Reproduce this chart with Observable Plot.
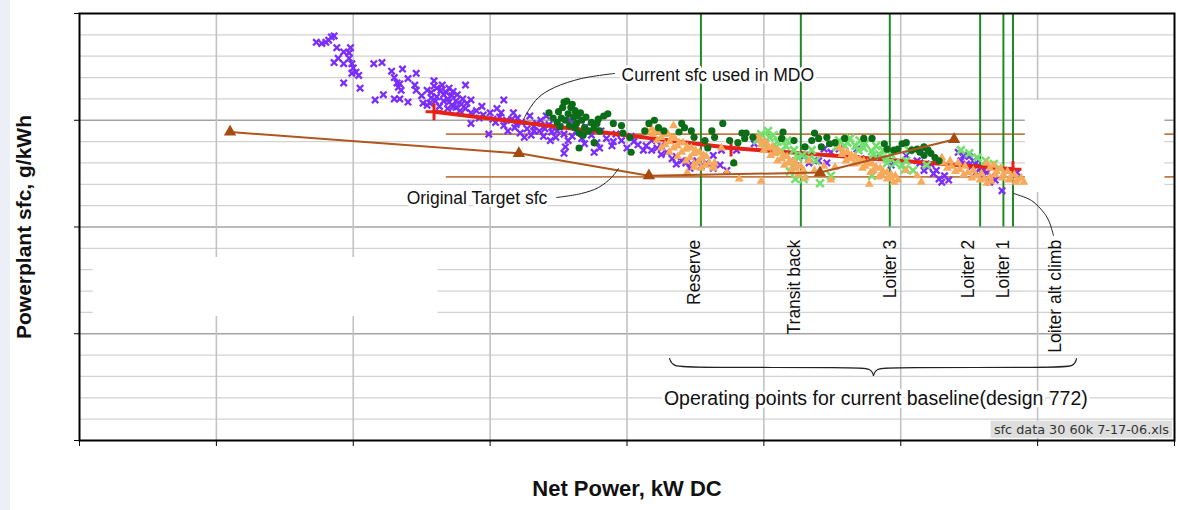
<!DOCTYPE html>
<html><head><meta charset="utf-8">
<script src="https://cdn.jsdelivr.net/npm/d3@7"></script>
<script src="https://cdn.jsdelivr.net/npm/@observablehq/plot@0.6"></script>
<style>
html,body{margin:0;padding:0;}
body{background:linear-gradient(to right,#eceff5 0,#eceff5 10px,#fff 10px);width:1178px;height:510px;overflow:hidden;}
#chart svg{display:block;}
</style></head><body><div id="chart"></div>
<script>
// axes (tick labels were blanked in the original)
const xTicks = [0,10,20,30,40,50,60,70,80];
const xGrid = [10,20,30,40,50,60,70];
const yTicks = [200,300,400,500,600];
const yMajorGrid = [300,400,500];
const yMinorGrid = [220,240,260,280,320,340,360,380,420,440,460,480,520,540,560,580];

// measured operating points, [net power kW, sfc g/kWh]
const purple = [
[17.3,573],[17.7,572],[18.0,573],[18.2,575],[18.4,578],[18.6,579],
[18.8,568],[19.3,564],[19.8,568],[19.7,563],
[18.6,554],[18.9,558],[19.3,553],[19.7,558],[19.9,553],[20.0,549],[20.2,545],[20.4,542],[19.9,544],
[19.3,535],[20.5,530],[21.5,553],[22.1,554],
[22.8,546],[23.6,548],[24.6,544],[24.0,539],[23.0,540],[23.2,535],[23.3,531],[23.5,528],[23.4,534],
[22.2,524],[21.6,519],[23.0,520],[23.4,520],[24.0,517],
[24.5,533],[24.6,528],[25.0,523],[25.1,516],[25.4,514],[25.9,537],[28.2,533],[28.6,519],[31.0,519],
[25.4,528],[25.7,526],[26.1,530],[26.4,528],[26.8,526],[27.2,523],[25.7,521],[26.1,522],[26.6,518],[27.0,517],[27.5,518],[27.9,515],[26.3,513],[26.9,511],[27.3,513],[27.8,509],[28.2,511],[28.6,507],[25.6,516],[27.6,524],[26.6,524],[27.0,530],
[25.9,532],[26.5,533],[27.3,527],[28.0,520],[28.3,516],[26.0,518],[26.9,520],[27.5,512],
[29.0,509],[29.5,505],[30.0,507],[30.2,501],[30.7,503],[31.2,500],[31.6,501],[31.9,496],[32.3,498],[32.7,492],[33.2,494],[33.6,490],[34.0,492],[34.5,489],[34.9,490],[28.6,497],[29.9,487],[31.3,490],[32.5,484],[33.2,490],[29.4,513],[30.5,511],[31.7,507],[32.9,504],[33.7,500],[34.3,496],[35.1,494],[35.4,487],[35.7,481],
[29.2,502],[30.4,498],[31.0,495],[31.8,493],[32.2,488],[33.0,486],[33.9,485],[34.8,484],[30.8,507],[32.0,502],[33.4,497],[34.6,494],
[35.9,500],[36.3,490],[36.7,483],[37.0,494],[37.4,486],[37.8,479],[38.1,490],[38.5,483],[38.9,476],[39.2,487],[39.6,481],[40.0,474],[40.3,485],[40.8,477],[41.2,472],[35.4,469],[37.6,470],[34.1,504],[34.4,481],
[36.0,485],[36.9,478],[38.0,474],[39.0,480],[40.5,480],[35.5,475],
[41.4,476],[41.8,472],[42.2,474],[42.5,468],[42.9,470],[43.3,464],[43.6,466],[44.0,462],[44.3,460],[44.7,459],[45.1,462],[45.4,457],[45.8,460],[46.3,455],[46.8,458],[47.3,453],[43.6,459],[44.6,455],[42.5,476],[41.8,481],[46.3,467],[46.9,472],[48.0,472],[49.3,478],
[52.3,462],[53.0,467],[54.0,462],[54.4,473],[54.9,470],[55.5,473],[54.6,460],[56.8,473],[57.1,464],[58.2,465],[59.3,458],[53.3,460],
[60.4,467],[61.2,462],[61.7,473],[62.0,456],[62.4,450],[62.8,445],[63.0,442],[61.7,453],[62.2,459],[62.6,453],[63.2,448],[63.5,444],[61.4,460],
[64.2,470],[64.6,467],[65.0,466],[65.3,462],[64.4,462],[64.8,459],[65.2,457],[65.5,460],[65.8,455],[66.0,453],[66.3,451],[66.6,447],[66.9,444],[66.5,442],[65.9,447],[65.5,451],[67.4,434],[68.5,451]
];
const darkGreen = [
[35.6,518],[35.9,512],[36.2,509],[36.4,504],[36.1,503],[35.7,506],[35.2,502],[34.9,498],[34.3,507],[36.7,500],[36.9,493],[37.2,490],[36.3,497],[35.8,495],[36.5,488],[37.6,493],[38.3,504],[38.6,506],[37.8,497],[39.0,497],[39.6,495],[39.7,488],[40.2,484],[40.3,470],[37.6,479],[36.5,474],[41.6,497],[42.0,500],[42.3,493],[41.3,490],[42.7,490],[44.0,497],[44.2,493],[43.8,489],[44.7,490],[44.9,484],[45.7,481],[46.2,490],[46.4,484],[47.0,497],[47.5,481],[48.4,488],[48.6,483],[47.8,460],[48.1,479],[49.2,484],[45.9,474],[35.4,517],[48.7,488],
[35.0,508],[35.3,512],[36.0,515],[36.6,507],[37.0,503],[37.4,498],[35.5,500],[36.2,493],[37.9,501],[38.0,490],[36.8,486],[35.1,494],[34.6,502],
[51.4,489],[51.3,483],[52.2,481],[53.7,488],[53.5,481],[54.0,483],[54.6,484],[54.8,478],[54.2,475],[55.2,479],[55.9,483],[53.0,475],[57.3,483],[57.9,483],[59.0,473],[58.8,478],[59.8,473],
[59.5,472],[60.1,478],[60.4,479],[60.8,472],[61.2,473],[61.4,470],[61.7,475],[62.0,472],[62.2,469],[62.5,465],[62.8,462],[61.7,467]
];
const lightGreen = [
[49.8,487],[50.4,484],[51.0,480],[51.6,476],[52.2,472],[52.8,467],[53.3,464],[50.9,475],[52.0,462],[52.6,448],[52.3,445],[52.9,445],[50.3,490],[50.7,486],[51.7,481],[49.5,481],[53.5,472],
[50.1,478],[51.3,471],[52.5,465],[51.9,452],[52.1,457],
[55.5,481],[56.1,479],[56.7,476],[57.3,474],[57.9,471],[58.5,467],[59.0,464],[59.6,460],[60.1,458],[56.3,483],[57.4,478],[58.7,472],[57.0,481],[58.2,476],[59.3,468],[55.3,475],
[55.9,476],[56.9,472],[58.0,468],[59.0,460],[60.3,454],
[54.1,441],[54.9,448],[53.8,462],[60.4,462],[60.9,453],[61.9,458],[60.6,472],[57.9,448],
[64.4,472],[65.0,469],[65.6,465],[66.2,462],[66.8,459],[67.2,455]
];
const orange = [
[41.8,492],[42.4,489],[43.0,487],[43.5,483],[44.1,479],[44.7,474],[45.3,470],[45.8,466],
[42.1,490],[42.7,487],[43.3,483],[43.8,479],[44.4,475],[45.0,472],[45.6,467],
[41.9,487],[42.5,484],[43.1,480],[43.7,476],[44.3,473],[44.9,469],[45.4,464],[46.0,460],
[42.2,481],[42.8,477],[43.4,474],[44.0,470],[44.6,465],[45.2,461],[45.7,458],
[42.5,474],[43.1,470],[43.7,466],[44.3,462],[44.9,459],[45.4,455],
[41.5,489],[46.3,457],[43.4,495],[46.9,474],[44.9,456],[46.4,460],[47.8,460],[46.3,455],
[49.6,484],[50.1,480],[50.6,475],[51.1,471],[51.7,466],[52.2,461],[52.7,457],
[49.8,481],[50.3,476],[50.9,472],[51.4,467],[51.9,462],[52.4,458],[52.9,453],
[49.8,477],[50.3,474],[50.8,469],[51.3,464],[51.8,460],[52.3,455],[52.8,451],
[50.0,472],[50.5,467],[51.0,462],[51.5,458],[52.0,453],[52.5,449],[53.0,446],
[55.5,474],[56.1,470],[56.7,466],[57.3,462],[57.9,459],[58.5,455],[59.0,451],[59.6,448],
[55.8,471],[56.4,467],[57.0,463],[57.6,460],[58.2,456],[58.7,452],[59.3,449],
[55.7,468],[56.3,464],[56.8,460],[57.4,457],[58.0,453],[58.6,449],[59.2,446],[59.8,444],
[56.0,462],[56.6,459],[57.2,455],[57.8,451],[58.4,447],[59.0,445],[59.5,442],
[63.0,465],[63.6,462],[64.2,460],[64.7,457],[65.3,453],[65.9,450],[66.5,447],
[63.1,460],[63.7,457],[64.3,454],[64.9,451],[65.5,448],[66.1,445],[66.6,443],
[63.4,455],[64.0,452],[64.6,449],[65.2,446],[65.8,444],[66.3,441],
[66.3,460],[66.8,458],[67.3,455],[67.8,452],[68.3,449],[68.8,446],
[66.5,455],[67.0,452],[67.5,449],[68.0,446],[68.5,444],[69.0,442],
[66.9,449],[67.4,446],[67.9,444],[68.4,442],
[53.7,453],[54.4,457],[54.9,444],[60.4,453],[61.2,448],[61.5,442],[48.2,445],[47.3,451],[44.4,451],[49.8,443],[55.2,456],[57.7,440],[53.3,462]
];

// "Current sfc used in MDO" curve
const currentX = [25.9, 47.6, 68.2];
const currentY = [508, 474, 454];
// "Original Target sfc" curve
const targetX = [11.0, 32.1, 41.6, 54.1, 63.9];
const targetY = [489, 469, 448, 451, 482];
// target band lines
const bandY = [447, 487];
const bandX = [26.8, 80];

// mission phase markers
const phaseNames = ["Reserve","Transit back","Loiter 3","Loiter 2","Loiter 1","Loiter alt climb"];
const phaseLineX = [45.4, 52.7, 59.2, 65.8, 67.5, 68.2];
const phaseLabelX = [44.9, 52.2, 59.25, 64.95, 67.5, 71.3];
const phaseLineY = [400, 600];
const phaseLabelY = 388;

// annotations
const mdoLeader = {x:[39.09,36.68,34.70,33.53,32.80,32.44], y:[543.8,539.1,530.7,521.3,509.1,500.7]};
const targetLeader = {x:[34.85,36.68,37.92,38.87,39.38], y:[427.6,431.4,437.0,446.4,454.8]};
const climbLeader = {x:[68.24,69.55,70.50,70.87,71.16], y:[431.4,424.8,412.7,404.2,392.0]};
const braceLeft = {x:[43.11,43.32,44.71,56.77,57.86,58.01], y:[276.8,269.3,268.4,268.4,267.4,260.9]};
const braceRight = {x:[58.01,58.16,59.25,71.38,72.70,72.84], y:[260.9,267.4,268.4,268.4,269.3,276.8]};
const notes = [
  {x:39.6, y:542, text:"Current sfc used in MDO", size:17.5},
  {x:23.9, y:427, text:"Original Target sfc", size:17.5},
  {x:42.7, y:239, text:"Operating points for current baseline(design 772)", size:19.5}
];
const blanks = [
  {x1:1.0, x2:26.2, y1:316, y2:371.4},
  {x1:69.1, x2:79.3, y1:432.3, y2:518.5}
];
const fileBox = {x1:66.6, x2:79.85, y1:202, y2:218, tx:79.6, ty:210, text:"sfc data 30 60k 7-17-06.xls"};

const pts = a => a.map(d => ({x:d[0], y:d[1]}));
const zipXY = (xs, ys) => xs.map((x,i) => ({x, y:ys[i]}));
const F = "Liberation Sans, Arial, Helvetica, sans-serif";
const ink = "#111";

const chart = Plot.plot({
  width: 1178, height: 510,
  marginLeft: 79, marginRight: 4, marginTop: 13, marginBottom: 70,
  x: {domain: [0, 80]},
  y: {domain: [200, 600]},
  style: {fontFamily: F, background: "transparent", color: ink},
  marks: [
    Plot.ruleY(yMinorGrid, {stroke: "#d2d2d2", strokeWidth: 1.3}),
    Plot.ruleY(yMajorGrid, {stroke: "#a3a3a3", strokeWidth: 1.4}),
    Plot.ruleX(xGrid, {stroke: "#c2c2c2", strokeWidth: 1.6}),
    Plot.ruleY(bandY, {x1: bandX[0], x2: bandX[1], stroke: "#c07a44", strokeWidth: 1.6}),
    Plot.rect(blanks, {x1:"x1", x2:"x2", y1:"y1", y2:"y2", fill: "#fff"}),
    Plot.ruleX(phaseLineX, {y1: phaseLineY[0], y2: phaseLineY[1], stroke: "#1f8b27", strokeWidth: 2}),
    Plot.dot(pts(purple), {x:"x", y:"y", symbol:"times", r:3, stroke:"#7b2dfc", strokeWidth:2.3}),
    Plot.line(zipXY(currentX, currentY), {x:"x", y:"y", stroke:"#e62117", strokeWidth:4}),
    Plot.dot(zipXY(currentX, currentY), {x:"x", y:"y", symbol:"plus", r:5.5, stroke:"#e62117", strokeWidth:3}),
    Plot.dot(pts(lightGreen), {x:"x", y:"y", symbol:"times", r:3.6, stroke:"#72e06c", strokeWidth:2.6}),
    Plot.dot(pts(orange), {x:"x", y:"y", symbol:"triangle", r:3.3, fill:"#f7aa5c"}),
    Plot.dot(pts(darkGreen), {x:"x", y:"y", symbol:"circle", r:3.6, fill:"#0b6d17"}),
    Plot.line(zipXY(targetX, targetY), {x:"x", y:"y", stroke:"#b0561d", strokeWidth:2}),
    Plot.dot(zipXY(targetX, targetY), {x:"x", y:"y", symbol:"triangle", r:4.6, fill:"#a64a10"}),
    Plot.line(zipXY(mdoLeader.x, mdoLeader.y), {x:"x", y:"y", curve:"catmull-rom", stroke:"#222", strokeWidth:1}),
    Plot.line(zipXY(targetLeader.x, targetLeader.y), {x:"x", y:"y", curve:"catmull-rom", stroke:"#222", strokeWidth:1}),
    Plot.line(zipXY(climbLeader.x, climbLeader.y), {x:"x", y:"y", curve:"catmull-rom", stroke:"#222", strokeWidth:1}),
    Plot.line(zipXY(braceLeft.x, braceLeft.y), {x:"x", y:"y", curve:"basis", stroke:"#222", strokeWidth:1.2}),
    Plot.line(zipXY(braceRight.x, braceRight.y), {x:"x", y:"y", curve:"basis", stroke:"#222", strokeWidth:1.2}),
    Plot.text(phaseNames, {x:(d,i)=>phaseLabelX[i], y:phaseLabelY, text:d=>d, rotate:-90, textAnchor:"end", fontSize:17.5, fill:ink}),
    Plot.text(notes, {x:"x", y:"y", text:"text", fontSize:"size", textAnchor:"start", fill:ink, stroke:"#fff", strokeWidth:6}),
    Plot.rect([fileBox], {x1:"x1", x2:"x2", y1:"y1", y2:"y2", fill:"#dedede"}),
    Plot.text([fileBox], {x:"tx", y:"ty", text:"text", textAnchor:"end", fontSize:12.8, fontFamily:"DejaVu Sans, sans-serif", fill:"#333"}),
    Plot.frame({stroke:"#000", strokeWidth:2}),
    Plot.axisX({ticks: xTicks, tickSize: 6, tickFormat: () => "", label: null, stroke:"#000"}),
    Plot.axisY({ticks: yTicks, tickSize: 5, tickFormat: () => "", label: null, stroke:"#000"}),
    Plot.text(["Powerplant sfc, g/kWh"], {frameAnchor:"left", dx:-55, rotate:-90, textAnchor:"middle", fontWeight:"bold", fontSize:21, fill:ink}),
    Plot.text(["Net Power, kW DC"], {frameAnchor:"bottom", dy:55, fontWeight:"bold", fontSize:22, fill:ink})
  ]
});
document.getElementById("chart").append(chart);
</script>
</body></html>
